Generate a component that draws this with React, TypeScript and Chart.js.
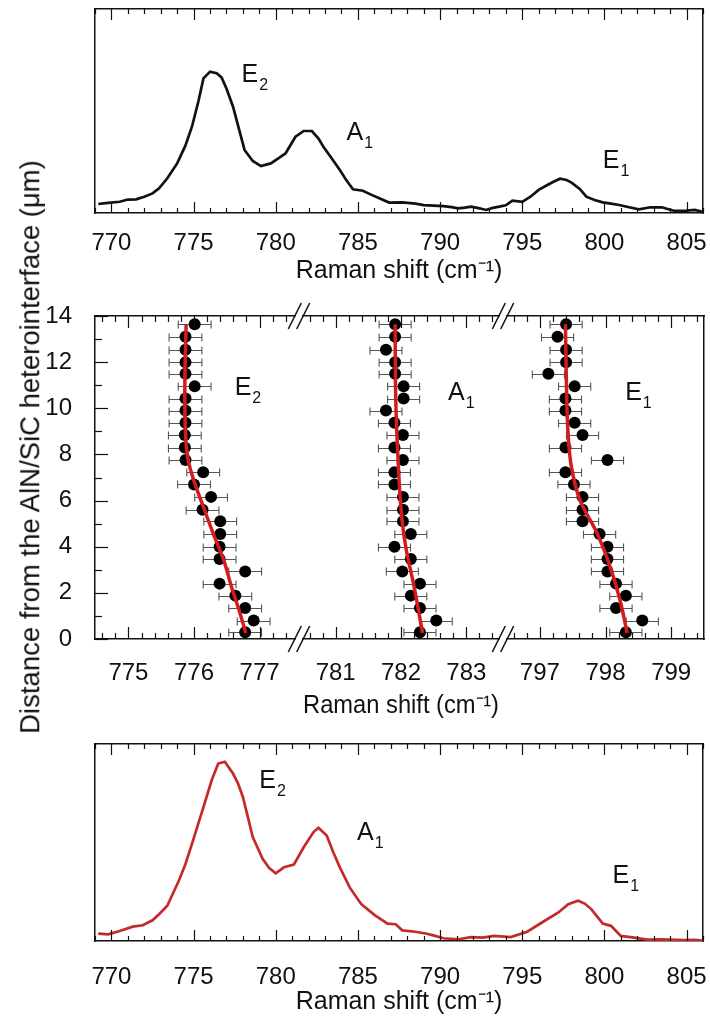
import React, { useEffect, useRef } from 'react';
import { Chart, registerables } from 'chart.js';

Chart.register(...registerables);

const FONT = "'Liberation Sans', Arial, Helvetica, sans-serif";
const INK = '#111111';
const RED_SPEC = '#c42a2a';
const RED_FIT = '#d41c1f';
const AXIS_TITLE = 'Raman shift (cm\u207B\u00B9)';

// ---------- top spectrum (black) ----------
const TOP_SHIFT = [769.2, 769.8, 770.5, 771.0, 771.5, 772.0, 772.5, 772.9, 773.4, 774.0, 774.5, 774.9, 775.3, 775.6, 776.0, 776.4, 776.7, 777.0, 777.4, 777.8, 778.1, 778.6, 779.1, 779.7, 780.2, 780.6, 781.2, 781.7, 782.2, 782.6, 782.9, 783.4, 783.9, 784.3, 784.7, 785.3, 785.8, 786.3, 786.9, 787.7, 788.5, 789.0, 789.6, 790.2, 790.7, 791.1, 791.5, 791.9, 792.4, 792.8, 793.2, 793.6, 794.0, 794.4, 795.0, 795.5, 796.0, 796.5, 796.9, 797.3, 797.7, 798.0, 798.5, 798.9, 799.4, 799.9, 800.4, 800.9, 801.5, 802.1, 802.8, 803.5, 804.0, 804.3, 805.0, 805.5, 806.0];
const TOP_INT = [4.4, 5.0, 5.5, 6.6, 6.7, 8.0, 9.6, 12.1, 17.0, 24.3, 33.0, 42.3, 55.0, 66.0, 69.3, 68.5, 66.5, 61.0, 52.1, 40.0, 30.9, 25.5, 23.0, 24.3, 27.0, 29.3, 37.4, 40.2, 40.2, 36.5, 32.5, 26.8, 21.1, 16.0, 11.6, 10.9, 9.0, 7.2, 5.1, 5.2, 4.6, 3.9, 3.6, 3.4, 2.9, 2.3, 2.6, 3.1, 2.3, 1.5, 2.5, 3.1, 3.8, 6.0, 5.5, 8.0, 11.3, 13.6, 15.3, 16.8, 16.2, 14.9, 11.8, 8.0, 6.4, 5.2, 4.6, 3.9, 2.8, 1.8, 2.8, 2.8, 1.6, 1.0, 1.2, 1.5, 0.6];

// ---------- bottom spectrum (red) ----------
const BOT_SHIFT = [769.2, 769.8, 770.5, 771.3, 771.9, 772.5, 772.9, 773.4, 774.1, 774.5, 774.9, 775.3, 775.6, 776.1, 776.5, 776.9, 777.4, 777.7, 778.0, 778.3, 778.6, 779.2, 779.6, 780.0, 780.5, 781.1, 781.7, 782.3, 782.6, 783.1, 783.5, 783.9, 784.5, 785.2, 786.0, 786.8, 787.3, 787.7, 788.5, 789.2, 789.7, 790.2, 791.1, 791.9, 792.6, 793.3, 794.3, 795.3, 796.2, 797.2, 797.8, 798.4, 798.8, 799.2, 799.6, 799.9, 800.4, 801.0, 801.8, 802.6, 803.5, 804.8, 805.5, 806.0];
const BOT_INT = [3.7, 3.4, 5.1, 7.3, 8.0, 10.5, 13.6, 17.9, 30.6, 39.0, 49.3, 60.0, 68.0, 81.6, 90.1, 91.0, 85.0, 80.0, 73.1, 63.0, 52.7, 41.7, 37.0, 34.4, 37.4, 38.8, 47.6, 55.3, 57.5, 53.6, 45.0, 37.4, 27.2, 18.7, 13.3, 8.8, 8.5, 5.4, 4.7, 3.7, 2.6, 1.4, 0.9, 2.0, 1.7, 2.6, 2.0, 4.7, 9.4, 14.5, 18.7, 20.4, 19.0, 16.2, 12.0, 8.8, 7.7, 2.6, 1.7, 0.7, 0.8, 0.5, 0.6, 0.2];

const SPEC_TICKS = [770, 775, 780, 785, 790, 795, 800, 805];
const SPEC_MIN = 769;
const SPEC_MAX = 806;
const INT_MIN = 0;
const INT_MAX = 100;

const TOP_LABELS = [
  { base: 'E', sub: '2', x: 777.92, y: 64.4 },
  { base: 'A', sub: '1', x: 784.31, y: 35.8 },
  { base: 'E', sub: '1', x: 799.9, y: 21.9 },
];
const BOT_LABELS = [
  { base: 'E', sub: '2', x: 779.0, y: 77.5 },
  { base: 'A', sub: '1', x: 784.95, y: 51.3 },
  { base: 'E', sub: '1', x: 800.5, y: 29.3 },
];

// ---------- depth profile (middle) ----------
const DEPTH = [13.64, 13.1, 12.54, 12.0, 11.5, 10.95, 10.42, 9.9, 9.37, 8.84, 8.3, 7.76, 7.23, 6.7, 6.16, 5.6, 5.1, 4.55, 4.0, 3.47, 2.93, 2.4, 1.88, 1.34, 0.8, 0.29];
const E2_SHIFT = [776.01, 775.87, 775.87, 775.87, 775.87, 776.01, 775.87, 775.87, 775.87, 775.86, 775.86, 775.87, 776.14, 776.0, 776.26, 776.13, 776.4, 776.4, 776.39, 776.39, 776.78, 776.39, 776.63, 776.78, 776.91, 776.78];
const A1_SHIFT = [781.91, 781.91, 781.77, 781.91, 781.91, 782.04, 782.04, 781.77, 781.9, 782.03, 781.9, 782.03, 781.9, 781.9, 782.03, 782.03, 782.03, 782.15, 781.9, 782.15, 782.02, 782.29, 782.15, 782.29, 782.54, 782.29];
const E1_SHIFT = [797.4, 797.27, 797.4, 797.4, 797.13, 797.53, 797.39, 797.39, 797.53, 797.65, 797.39, 798.03, 797.39, 797.52, 797.65, 797.65, 797.65, 797.91, 798.03, 798.03, 798.03, 798.16, 798.31, 798.16, 798.56, 798.31];
const E2_ERR = 0.25;
const A1_ERR = 0.245;
const E1_ERR = 0.245;

const E2_FIT_SHIFT = [775.88, 775.86, 775.87, 775.91, 776.01, 776.14, 776.29, 776.45, 776.57, 776.7, 776.79];
const E2_FIT_DEPTH = [13.64, 11.0, 8.93, 7.77, 6.76, 5.75, 4.59, 3.44, 2.28, 1.13, 0.26];
const A1_FIT_SHIFT = [781.91, 781.92, 781.96, 782.01, 782.08, 782.19, 782.33];
const A1_FIT_DEPTH = [13.64, 10.36, 7.47, 5.31, 3.87, 2.42, 0.26];
const E1_FIT_SHIFT = [797.39, 797.41, 797.43, 797.48, 797.61, 797.87, 798.07, 798.22, 798.33];
const E1_FIT_DEPTH = [13.64, 10.36, 8.9, 7.47, 6.03, 4.59, 3.14, 1.7, 0.26];

const SEG1_TICKS = [775, 776, 777];
const SEG2_TICKS = [781, 782, 783];
const SEG3_TICKS = [797, 798, 799];
const SEG1_RANGE = [774.49, 777.54];
const SEG2_RANGE = [780.5, 783.5];
const SEG3_RANGE = [796.5, 799.5];
const DEPTH_TICKS = [0, 2, 4, 6, 8, 10, 12, 14];
const DEPTH_MIN = 0;
const DEPTH_MAX = 14;

const MID_LABELS_1 = [{ base: 'E', sub: '2', x: 776.62, y: 10.59 }];
const MID_LABELS_2 = [{ base: 'A', sub: '1', x: 782.72, y: 10.37 }];
const MID_LABELS_3 = [{ base: 'E', sub: '1', x: 798.3, y: 10.37 }];

// ---------- plugins ----------
const innerTicks = {
  id: 'innerTicks',
  afterDraw(chart: any, _args: any, opts: any) {
    const { ctx, chartArea: a } = chart;
    ctx.save();
    ctx.strokeStyle = INK;
    ctx.lineWidth = 1.2;
    (opts.axes || []).forEach((spec: any) => {
      const s = chart.scales[spec.scale];
      const first = Math.ceil(s.min / spec.minor - 1e-6);
      const last = Math.floor(s.max / spec.minor + 1e-6);
      for (let k = first; k <= last; k++) {
        const v = k * spec.minor;
        const r = v / spec.major;
        const major = Math.abs(r - Math.round(r)) < 1e-6;
        const len = major ? spec.majorLen : spec.minorLen;
        const p = Math.round(s.getPixelForValue(v)) + 0.5;
        ctx.beginPath();
        spec.sides.forEach((side: string) => {
          if (side === 'bottom') { ctx.moveTo(p, a.bottom); ctx.lineTo(p, a.bottom - len); }
          if (side === 'top') { ctx.moveTo(p, a.top); ctx.lineTo(p, a.top + len); }
          if (side === 'left') { ctx.moveTo(a.left, p); ctx.lineTo(a.left + len, p); }
          if (side === 'right') { ctx.moveTo(a.right, p); ctx.lineTo(a.right - len, p); }
        });
        ctx.stroke();
      }
    });
    ctx.restore();
  },
};

const peakLabels = {
  id: 'peakLabels',
  afterDatasetsDraw(chart: any, _args: any, opts: any) {
    const { ctx } = chart;
    const xs = chart.scales.x;
    const ys = chart.scales.y;
    ctx.save();
    ctx.fillStyle = INK;
    ctx.textAlign = 'left';
    ctx.textBaseline = 'alphabetic';
    (opts.items || []).forEach((l: any) => {
      const px = xs.getPixelForValue(l.x);
      const py = ys.getPixelForValue(l.y);
      ctx.font = `25px ${FONT}`;
      ctx.fillText(l.base, px, py);
      const w = ctx.measureText(l.base).width;
      ctx.font = `16px ${FONT}`;
      ctx.fillText(l.sub, px + w + 1, py + 8);
    });
    ctx.restore();
  },
};

const errorBars = {
  id: 'errorBars',
  beforeDatasetsDraw(chart: any) {
    const { ctx } = chart;
    const xs = chart.scales.x;
    const ys = chart.scales.y;
    ctx.save();
    ctx.strokeStyle = '#555555';
    ctx.lineWidth = 1.1;
    chart.data.datasets.forEach((ds: any) => {
      if (!ds.errorX) return;
      ds.data.forEach((p: any) => {
        const x1 = xs.getPixelForValue(p.x - ds.errorX);
        const x2 = xs.getPixelForValue(p.x + ds.errorX);
        const y = Math.round(ys.getPixelForValue(p.y)) + 0.5;
        ctx.beginPath();
        ctx.moveTo(x1, y); ctx.lineTo(x2, y);
        ctx.moveTo(x1, y - 4); ctx.lineTo(x1, y + 4);
        ctx.moveTo(x2, y - 4); ctx.lineTo(x2, y + 4);
        ctx.stroke();
      });
    });
    ctx.restore();
  },
};

const axisBreaks = {
  id: 'axisBreaks',
  afterDraw(chart: any) {
    const { ctx, chartArea: a } = chart;
    ctx.save();
    ctx.strokeStyle = INK;
    ctx.lineWidth = 1.5;
    [a.left - 4, a.right + 4].forEach((cx: number) => {
      [a.top, a.bottom].forEach((cy: number) => {
        [-4.2, 4.2].forEach((dx: number) => {
          ctx.beginPath();
          ctx.moveTo(cx + dx - 6.5, cy + 13);
          ctx.lineTo(cx + dx + 6.5, cy - 13);
          ctx.stroke();
        });
      });
    });
    ctx.restore();
  },
};

// ---------- config helpers ----------
function sized(size: number, horizontal: boolean) {
  return (s: any) => {
    if (horizontal) s.height = size; else s.width = size;
    s.paddingLeft = 0; s.paddingRight = 0; s.paddingTop = 0; s.paddingBottom = 0;
  };
}

const BORDER = { display: true, color: INK, width: 1.5 };
const NO_BORDER = { display: false };

function xAxis(min: number, max: number, ticks: number[], height: number, tickPad: number, title: boolean, titlePadBottom: number) {
  return {
    type: 'linear',
    position: 'bottom',
    min, max,
    afterBuildTicks: (s: any) => { s.ticks = ticks.map((v) => ({ value: v })); },
    ticks: { font: { family: FONT, size: 24 }, color: INK, padding: tickPad, maxRotation: 0, autoSkip: false },
    grid: { display: false },
    border: BORDER,
    title: { display: title, text: AXIS_TITLE, font: { family: FONT, size: 25 }, color: INK, padding: { top: 0, bottom: titlePadBottom } },
    afterFit: sized(height, true),
  };
}
function xTopAxis(min: number, max: number, height: number) {
  return {
    type: 'linear', position: 'top', min, max,
    ticks: { display: false }, grid: { display: false }, border: BORDER,
    afterFit: sized(height, true),
  };
}
function yAxis(position: string, min: number, max: number, width: number, border: boolean, ticks: number[] | null) {
  return {
    type: 'linear', position, min, max,
    afterBuildTicks: ticks ? (s: any) => { s.ticks = ticks.map((v) => ({ value: v })); } : undefined,
    ticks: ticks
      ? { display: true, font: { family: FONT, size: 24 }, color: INK, padding: 15, autoSkip: false }
      : { display: false },
    grid: { display: false },
    border: border ? BORDER : NO_BORDER,
    afterFit: sized(width, false),
  };
}

function baseOptions(scales: any, plugins: any) {
  return {
    animation: false,
    responsive: false,
    devicePixelRatio: 1,
    events: [],
    layout: { padding: 0, autoPadding: false },
    plugins: { legend: { display: false }, tooltip: { enabled: false }, ...plugins },
    scales,
  };
}

const W = 710;

function spectrumConfig(xs: number[], ys: number[], color: string, labels: any[], area: any, h: number, tickPad: number, titlePad: number) {
  return {
    type: 'scatter',
    data: {
      datasets: [{
        data: xs.map((x, i) => ({ x, y: ys[i] })),
        showLine: true, borderColor: color, borderWidth: 2.7, pointRadius: 0, tension: 0, fill: false,
      }],
    },
    options: baseOptions({
      x: xAxis(SPEC_MIN, SPEC_MAX, SPEC_TICKS, h - area.bottom, tickPad, true, titlePad),
      xTop: xTopAxis(SPEC_MIN, SPEC_MAX, area.top),
      y: yAxis('left', INT_MIN, INT_MAX, area.left, true, null),
      yR: yAxis('right', INT_MIN, INT_MAX, W - area.right, true, null),
    }, {
      innerTicks: { axes: [{ scale: 'x', major: 5, minor: 1, sides: ['bottom', 'top'], majorLen: 11, minorLen: 5 }] },
      peakLabels: { items: labels },
    }),
    plugins: [innerTicks, peakLabels],
  };
}

function segmentConfig(shift: number[], err: number, fitX: number[], fitY: number[], range: number[], ticks: number[], labels: any[], area: any, h: number, seg: number) {
  const axes: any[] = [{ scale: 'x', major: 1, minor: 0.2, sides: ['bottom', 'top'], majorLen: 12, minorLen: 6 }];
  if (seg === 1) axes.push({ scale: 'y', major: 2, minor: 1, sides: ['left'], majorLen: 13, minorLen: 7 });
  const plugins: any[] = [errorBars, innerTicks, peakLabels];
  if (seg === 2) plugins.push(axisBreaks);
  return {
    type: 'scatter',
    data: {
      datasets: [
        {
          data: fitX.map((x, i) => ({ x, y: fitY[i] })),
          showLine: true, borderColor: RED_FIT, borderWidth: 3.5, pointRadius: 0, tension: 0.35, fill: false, order: 1,
        },
        {
          data: shift.map((x, i) => ({ x, y: DEPTH[i] })),
          showLine: false, pointRadius: 6, pointBackgroundColor: '#000000', pointBorderColor: '#000000', pointBorderWidth: 0,
          errorX: err, order: 2,
        },
      ],
    },
    options: baseOptions({
      x: xAxis(range[0], range[1], ticks, h - area.bottom, 12, seg === 2, 9),
      xTop: xTopAxis(range[0], range[1], area.top),
      y: yAxis('left', DEPTH_MIN, DEPTH_MAX, area.left, seg === 1, seg === 1 ? DEPTH_TICKS : null),
      yR: yAxis('right', DEPTH_MIN, DEPTH_MAX, W - area.right, seg === 3, null),
    }, {
      innerTicks: { axes },
      peakLabels: { items: labels },
    }),
    plugins,
  };
}

export default function App() {
  const topRef = useRef<HTMLCanvasElement>(null);
  const m1Ref = useRef<HTMLCanvasElement>(null);
  const m2Ref = useRef<HTMLCanvasElement>(null);
  const m3Ref = useRef<HTMLCanvasElement>(null);
  const botRef = useRef<HTMLCanvasElement>(null);

  useEffect(() => {
    const charts: Chart[] = [];
    charts.push(new Chart(topRef.current as any, spectrumConfig(TOP_SHIFT, TOP_INT, INK, TOP_LABELS, { left: 95, right: 703, top: 9, bottom: 213 }, 290, 8, 4) as any));
    charts.push(new Chart(m1Ref.current as any, segmentConfig(E2_SHIFT, E2_ERR, E2_FIT_SHIFT, E2_FIT_DEPTH, SEG1_RANGE, SEG1_TICKS, MID_LABELS_1, { left: 95, right: 295, top: 26, bottom: 349 }, 440, 1) as any));
    charts.push(new Chart(m2Ref.current as any, segmentConfig(A1_SHIFT, A1_ERR, A1_FIT_SHIFT, A1_FIT_DEPTH, SEG2_RANGE, SEG2_TICKS, MID_LABELS_2, { left: 303, right: 499, top: 26, bottom: 349 }, 440, 2) as any));
    charts.push(new Chart(m3Ref.current as any, segmentConfig(E1_SHIFT, E1_ERR, E1_FIT_SHIFT, E1_FIT_DEPTH, SEG3_RANGE, SEG3_TICKS, MID_LABELS_3, { left: 507, right: 704, top: 26, bottom: 349 }, 440, 3) as any));
    charts.push(new Chart(botRef.current as any, spectrumConfig(BOT_SHIFT, BOT_INT, RED_SPEC, BOT_LABELS, { left: 95, right: 703, top: 14, bottom: 211 }, 287, 14, 0) as any));
    return () => { charts.forEach((c) => c.destroy()); };
  }, []);

  const abs = (top: number): React.CSSProperties => ({ position: 'absolute', left: 0, top });

  return (
    <div style={{ position: 'absolute', left: 0, top: 0, width: 710, height: 1017, background: '#ffffff', overflow: 'hidden' }}>
      <canvas ref={topRef} width={710} height={290} style={abs(0)} />
      <canvas ref={m1Ref} width={710} height={440} style={abs(290)} />
      <canvas ref={m2Ref} width={710} height={440} style={abs(290)} />
      <canvas ref={m3Ref} width={710} height={440} style={abs(290)} />
      <canvas ref={botRef} width={710} height={287} style={abs(730)} />
      <div
        style={{
          position: 'absolute', left: 30, top: 447, transform: 'translate(-50%, -50%) rotate(-90deg)',
          whiteSpace: 'nowrap', fontFamily: FONT, fontSize: 27.5, lineHeight: 1, color: INK,
        }}
      >
        Distance from the AlN/SiC heterointerface (&mu;m)
      </div>
    </div>
  );
}
